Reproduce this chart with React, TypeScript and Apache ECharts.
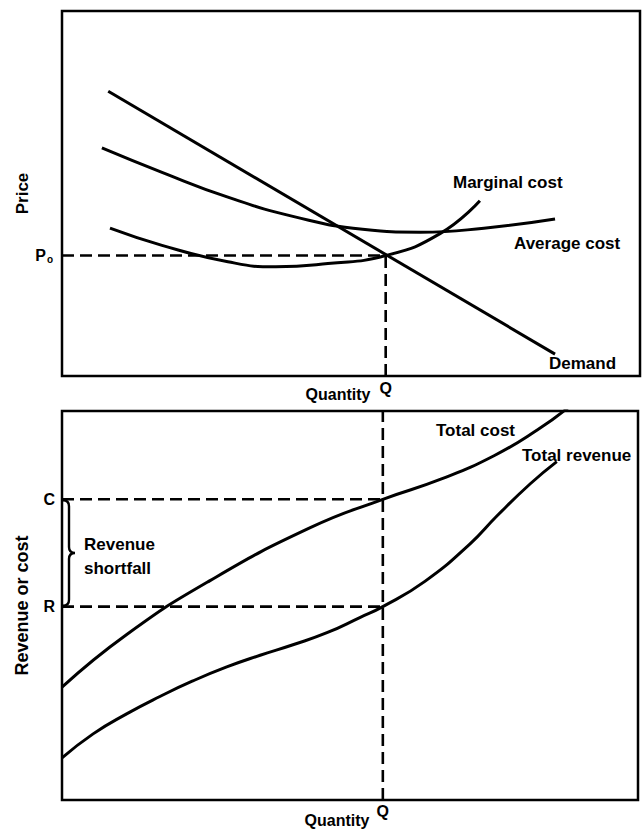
import React, { useEffect, useRef } from 'react';
import * as echarts from 'echarts';

const FONT = '"Liberation Sans", Arial, Helvetica, sans-serif';

// ---- Top panel (price vs quantity) ----
const Q_TOP = 56;
const P0 = 33;
const demandQ = [8, 85.3];
const demandP = [78, 6];
const avgCostQ = [6.9, 17.3, 28.7, 40.3, 52, 62, 73, 85.3];
const avgCostP = [62.5, 55.8, 49.0, 43.6, 40.2, 39.4, 40.5, 43.0];
const margCostQ = [8.3, 17.3, 28.7, 37, 46, 56, 65.4, 72.3];
const margCostP = [40.5, 35.8, 31.3, 29.9, 30.8, 33, 39.0, 48.0];

// ---- Bottom panel (revenue or cost vs quantity) ----
const Q_BOTTOM = 55.7;
const C_LEVEL = 77.3;
const R_LEVEL = 49.7;
const totalCostQ = [0, 11.3, 25.7, 43.1, 55.7, 66, 75, 82.5, 88];
const totalCostV = [29.0, 42.6, 56.4, 70.0, 77.3, 82.6, 88.5, 95.1, 101];
const totalRevQ = [0, 5.4, 11.3, 17, 22.7, 28.6, 34.4, 40.1, 46, 51.7, 55.7, 63, 70.8, 75.5, 81.3, 85.9];
const totalRevV = [10.8, 17.0, 22.2, 26.6, 30.6, 34.2, 37.2, 39.9, 43.0, 46.9, 49.7, 56.2, 65.8, 73.0, 81.3, 87.0];

const zip = (xs: number[], ys: number[]) => xs.map((x, i) => [x, ys[i]]);

const curveStyle = { color: '#000', width: 3 };
const dashStyle = { color: '#000', width: 2.6, type: [12, 6] as any };

const txt = (text: string, x: number, y: number, size = 17, extra: any = {}) => ({
  type: 'text',
  x,
  y,
  silent: true,
  style: {
    text,
    fill: '#000',
    fontSize: size,
    fontWeight: 'bold',
    fontFamily: FONT,
    align: 'left',
    verticalAlign: 'middle',
    ...extra,
  },
});

const baseAxis = {
  type: 'value',
  min: 0,
  max: 100,
  axisLine: { show: false },
  axisTick: { show: false },
  splitLine: { show: false },
};

const labelStyle = { color: '#000', fontSize: 16, fontWeight: 'bold', fontFamily: FONT };
const nameStyle = { color: '#000', fontSize: 17, fontWeight: 'bold', fontFamily: FONT };

export default function App() {
  const ref = useRef<HTMLDivElement>(null);
  useEffect(() => {
    document.body.style.margin = '0';
    const chart = echarts.init(ref.current!, null, { renderer: 'svg' });
    const line = (name: string, gi: number, data: number[][], style: any, smooth: number | boolean = false) => ({
      type: 'line',
      name,
      xAxisIndex: gi,
      yAxisIndex: gi,
      data,
      symbol: 'none',
      smooth,
      lineStyle: style,
      silent: true,
    });
    const option: any = {
      animation: false,
      backgroundColor: '#fff',
      grid: [
        { left: 62, top: 11, width: 578, height: 365, show: true, borderColor: '#000', borderWidth: 2.5, backgroundColor: 'transparent' },
        { left: 62, top: 411, width: 576, height: 389, show: true, borderColor: '#000', borderWidth: 2.5, backgroundColor: 'transparent' },
      ],
      xAxis: [
        {
          ...baseAxis,
          gridIndex: 0,
          axisLabel: { ...labelStyle, customValues: [Q_TOP], formatter: () => 'Q', margin: 4 },
          name: 'Quantity',
          nameLocation: 'middle',
          nameGap: 10,
          nameMoveOverlap: false,
          nameTextStyle: { ...nameStyle, fontSize: 16, padding: [0, 26, 0, 0] },
        },
        {
          ...baseAxis,
          gridIndex: 1,
          axisLabel: { ...labelStyle, customValues: [Q_BOTTOM], formatter: () => 'Q', margin: 3 },
          name: 'Quantity',
          nameLocation: 'middle',
          nameGap: 12,
          nameMoveOverlap: false,
          nameTextStyle: { ...nameStyle, fontSize: 16, padding: [0, 26, 0, 0] },
        },
      ],
      yAxis: [
        {
          ...baseAxis,
          gridIndex: 0,
          axisLabel: {
            ...labelStyle,
            customValues: [P0],
            formatter: () => '{p|P}{s|o}',
            margin: 9,
            rich: {
              p: { ...labelStyle, fontSize: 16 },
              s: { ...labelStyle, fontSize: 10, padding: [8, 0, 0, 1] },
            },
          },
          name: 'Price',
          nameLocation: 'middle',
          nameRotate: 90,
          nameGap: 31,
          nameMoveOverlap: false,
          nameTextStyle: { ...nameStyle },
        },
        {
          ...baseAxis,
          gridIndex: 1,
          axisLabel: {
            ...labelStyle,
            customValues: [C_LEVEL, R_LEVEL],
            formatter: (v: number) => (v === C_LEVEL ? 'C' : 'R'),
            margin: 7,
          },
          name: 'Revenue or cost',
          nameLocation: 'middle',
          nameRotate: 90,
          nameGap: 31,
          nameMoveOverlap: false,
          nameTextStyle: { ...nameStyle, fontSize: 18 },
        },
      ],
      series: [
        // top panel
        line('Demand', 0, zip(demandQ, demandP), curveStyle),
        line('Average cost', 0, zip(avgCostQ, avgCostP), curveStyle, 0.5),
        line('Marginal cost', 0, zip(margCostQ, margCostP), curveStyle, 0.5),
        line('P0 guide', 0, [[0, P0], [Q_TOP, P0]], dashStyle),
        line('Q guide', 0, [[Q_TOP, 0], [Q_TOP, P0]], dashStyle),
        // bottom panel
        line('Total cost', 1, zip(totalCostQ, totalCostV), curveStyle, 0.5),
        line('Total revenue', 1, zip(totalRevQ, totalRevV), curveStyle, 0.5),
        line('C guide', 1, [[0, C_LEVEL], [Q_BOTTOM, C_LEVEL]], dashStyle),
        line('R guide', 1, [[0, R_LEVEL], [Q_BOTTOM, R_LEVEL]], dashStyle),
        line('Q guide 2', 1, [[Q_BOTTOM, 0], [Q_BOTTOM, 100]], dashStyle),
        {
          type: 'custom',
          name: 'brace',
          xAxisIndex: 1,
          yAxisIndex: 1,
          silent: true,
          data: [[0, C_LEVEL, R_LEVEL]],
          renderItem: (params: any, api: any) => {
            const t = api.coord([api.value(0), api.value(1)]);
            const b = api.coord([api.value(0), api.value(2)]);
            const x0 = t[0] + 1;
            const yT = t[1] + 1;
            const yB = b[1] - 1;
            const ym = (yT + yB) / 2;
            const xl = x0 + 6;
            const xt = x0 + 12;
            const d = `M${x0},${yT} Q${xl},${yT} ${xl},${yT + 6} L${xl},${ym - 6} Q${xl},${ym} ${xt},${ym} Q${xl},${ym} ${xl},${ym + 6} L${xl},${yB - 6} Q${xl},${yB} ${x0},${yB}`;
            return { type: 'path', shape: { pathData: d }, style: { stroke: '#000', fill: 'none', lineWidth: 2.4 } };
          },
        },
      ],
      graphic: [
        txt('Marginal cost', 453, 182),
        txt('Average cost', 514, 243),
        txt('Demand', 549, 363),
        txt('Total cost', 436, 430),
        txt('Total revenue', 522, 455),
        txt('Revenue', 84, 544),
        txt('shortfall', 84, 568),
      ],
    };
    chart.setOption(option);
    return () => chart.dispose();
  }, []);
  return <div ref={ref} style={{ width: 644, height: 833, background: '#fff' }} />;
}
